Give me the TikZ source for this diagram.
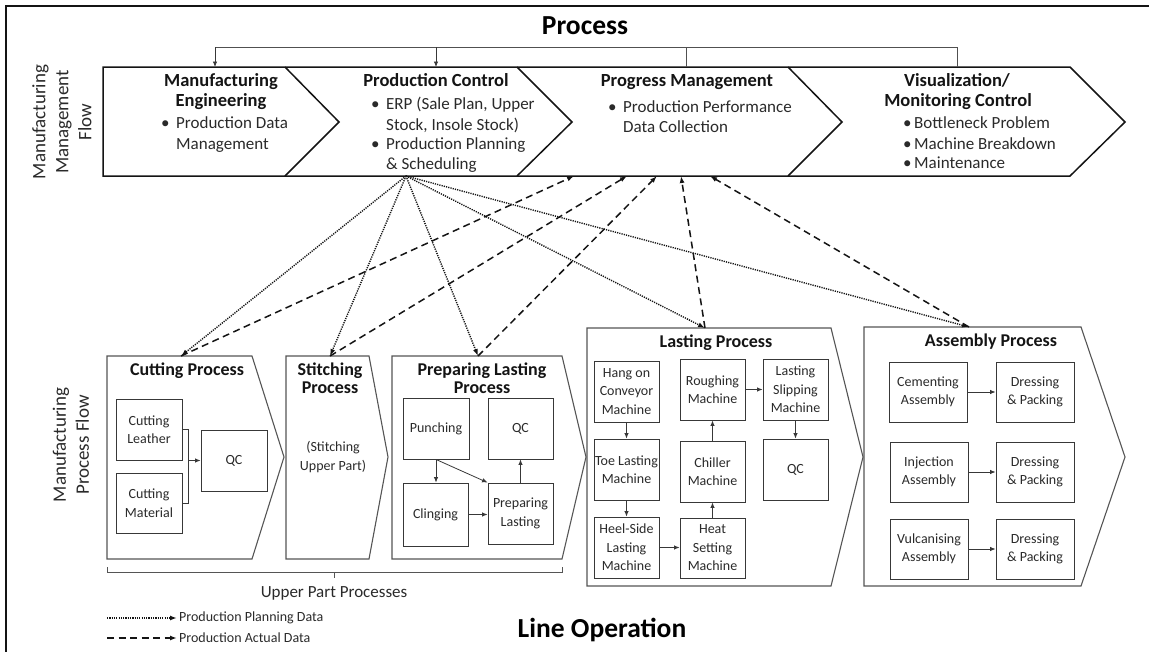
\documentclass[tikz,border=0pt]{standalone}
\usepackage{fontspec}
\setmainfont{Carlito}
\usetikzlibrary{arrows.meta}

\definecolor{ink}{HTML}{141414}
\definecolor{txt}{HTML}{2A2A2A}
\definecolor{procln}{HTML}{555555}
\definecolor{boxln}{HTML}{383838}
\definecolor{busln}{HTML}{505050}

\newcommand\fsz[2]{\fontsize{#1}{#2}\selectfont}
% inner step box given by its corners: name, x1, y1, x2, y2, text
\newcommand\bx[6]{\node[ibox, minimum width={#4-#2}, minimum height={#5-#3}] (#1) at ({(#2+#4)/2},{(#3+#5)/2}) {#6};}

\tikzset{
  ibox/.style={draw=boxln, line width=0.9pt, inner sep=0pt, align=center, text=txt, font=\fsz{14}{18.5}},
  procshape/.style={draw=procln, line width=1.1pt, line join=miter},
  chevline/.style={draw=ink, line width=1.5pt, line join=miter},
  ttl/.style={font=\bfseries\fsz{18.5}{20}, text=ink, inner sep=0pt, anchor=base},
  ptl/.style={font=\bfseries\fsz{18}{18}, text=ink, inner sep=0pt, anchor=base},
  btxt/.style={font=\fsz{17}{20}, text=txt, inner sep=0pt, anchor=base west},
  flow/.style={-{Latex[length=5.5pt,width=4.5pt]}, draw=boxln, line width=0.8pt},
  bus/.style={draw=busln, line width=0.9pt},
  plan/.style={-{Latex[length=7pt,width=5pt]}, draw=ink, line width=1.4pt, dash pattern=on 1.2pt off 1.1pt},
  actual/.style={-{Latex[length=7pt,width=5pt]}, draw=ink, line width=1.5pt, dash pattern=on 7pt off 4.5pt},
  side/.style={font=\fsz{19}{23}, text=txt, inner sep=0pt, align=center, rotate=90},
  big/.style={font=\bfseries\fsz{27.5}{30}, text=black, inner sep=0pt, anchor=base},
  legend/.style={font=\fsz{14}{16}, text=txt, inner sep=0pt, anchor=west},
}

\begin{document}
\begin{tikzpicture}[x=1pt,y=-1pt]
\useasboundingbox (0,0) rectangle (1149,651);

% outer frame
\draw[draw=ink, line width=1.8pt] (6,660) -- (6,6) -- (1160,6);

% headings
\node[big] (ttl) at (585,34) {Process};
\node[big] (lop) at (602,637) {Line Operation};

% side labels
\node[side] (mmf) at (62,122) {Manufacturing\\Management\\Flow};
\node[side] (mpf) at (71,445) {Manufacturing\\Process Flow};

% ---------- management flow chevrons ----------
\draw[chevline] (103,67) -- (1070,67) -- (1125,122) -- (1070,176) -- (103,176) -- cycle;
\draw[chevline] (285,67) -- (339,122) -- (285,176);
\draw[chevline] (517,67) -- (572,122) -- (517,176);
\draw[chevline] (788,67) -- (842,122) -- (788,176);

\coordinate (me-top) at (215,67);
\coordinate (pc-top) at (436,67);
\coordinate (pm-top) at (686,67);
\coordinate (vm-top) at (957,67);
\coordinate (bus-l) at (215,47);
\coordinate (bus-r) at (957,47);
\draw[bus] (bus-l) -- (bus-r);
\draw[flow] (bus-l) -- (me-top);
\draw[flow] (pc-top |- bus-l) -- (pc-top);
\draw[bus] (pm-top |- bus-l) -- (pm-top);
\draw[bus] (bus-r) -- (vm-top);

% Manufacturing Engineering
\node[ttl] (me-t1) at (221,86) {Manufacturing};
\node[ttl] (me-t2) at (221,106) {Engineering};
\node[btxt] (me-d1) at (161,128) {\textbullet};
\node[btxt] (me-l1) at (176,128) {Production Data};
\node[btxt] (me-l2) at (176,149) {Management};

% Production Control
\node[ttl] (pc-t1) at (436,86) {Production Control};
\node[btxt] (pc-d1) at (371,109) {\textbullet};
\node[btxt] (pc-l1) at (386,109) {ERP (Sale Plan, Upper};
\node[btxt] (pc-l2) at (386,130) {Stock, Insole Stock)};
\node[btxt] (pc-d2) at (371,149) {\textbullet};
\node[btxt] (pc-l3) at (386,149) {Production Planning};
\node[btxt] (pc-l4) at (386,169) {\& Scheduling};

% Progress Management
\node[ttl] (pm-t1) at (687,86) {Progress Management};
\node[btxt] (pm-d1) at (608,112) {\textbullet};
\node[btxt] (pm-l1) at (623,112) {Production Performance};
\node[btxt] (pm-l2) at (623,132) {Data Collection};

% Visualization / Monitoring Control
\node[ttl] (vm-t1) at (957,86) {Visualization/};
\node[ttl] (vm-t2) at (958,106) {Monitoring Control};
\node[btxt] (vm-d1) at (903,128) {\textbullet};
\node[btxt] (vm-l1) at (914,128) {Bottleneck Problem};
\node[btxt] (vm-d2) at (903,149) {\textbullet};
\node[btxt] (vm-l2) at (914,149) {Machine Breakdown};
\node[btxt] (vm-d3) at (903,168) {\textbullet};
\node[btxt] (vm-l3) at (914,168) {Maintenance};

% ---------- process flow blocks ----------
\draw[procshape] (107,356) -- (252,356) -- (284,457) -- (252,559) -- (107,559) -- cycle;
\draw[procshape] (286,356) -- (369,356) -- (388,457) -- (369,559) -- (286,559) -- cycle;
\draw[procshape] (392,356) -- (562,356) -- (586,457) -- (562,559) -- (392,559) -- cycle;
\draw[procshape] (587,328) -- (831,328) -- (863,457) -- (831,586) -- (587,586) -- cycle;
\draw[procshape] (864,327) -- (1081,327) -- (1125,457) -- (1081,586) -- (864,586) -- cycle;

\coordinate (cut-top) at (181,356);
\coordinate (sti-top) at (330,356);
\coordinate (pre-top) at (478,356);
\coordinate (las-top) at (705,328);
\coordinate (asm-top) at (969,327);

\node[ptl] (cut-t) at (187,375) {Cutting Process};
\node[ptl] (sti-t1) at (330,375) {Stitching};
\node[ptl] (sti-t2) at (330,393) {Process};
\node[ptl] (pre-t1) at (482,375) {Preparing Lasting};
\node[ptl] (pre-t2) at (482,393) {Process};
\node[ptl] (las-t) at (716,347) {Lasting Process};
\node[ptl] (asm-t) at (991,346) {Assembly Process};

% cutting
\bx{cl}{116}{399}{182}{460}{Cutting\\Leather}
\bx{cm}{116}{473}{182}{533}{Cutting\\Material}
\bx{qc1}{201}{430}{267}{491}{QC}
\draw[flow, -] (cl.east) -- ++(6,0) coordinate (brt) |- (cm.east);
\draw[flow] (brt |- qc1.west) -- (qc1.west);

% stitching
\node[font=\fsz{14}{18.5}, text=txt, align=center, inner sep=0pt] (stx) at (333,457) {(Stitching\\Upper Part)};

% preparing lasting
\bx{pun}{403}{398}{469}{459}{Punching}
\bx{qc2}{488}{398}{553}{459}{QC}
\bx{cli}{403}{483}{468}{546}{Clinging}
\bx{prl}{488}{483}{553}{544}{Preparing\\Lasting}
\draw[flow] (pun.south) -- (pun.south |- cli.north);
\draw[flow] (pun.south) -- (prl.north west);
\draw[flow] (cli.east) -- (cli.east -| prl.west);
\draw[flow] (prl.north) -- (prl.north |- qc2.south);

% lasting
\bx{hang}{594}{361}{659}{422}{Hang on\\Conveyor\\Machine}
\bx{toe}{594}{439}{659}{500}{Toe Lasting\\Machine}
\bx{heel}{594}{517}{659}{578}{Heel-Side\\Lasting\\Machine}
\bx{rough}{680}{359}{745}{420}{Roughing\\Machine}
\bx{chill}{680}{441}{745}{502}{Chiller\\Machine}
\bx{heat}{680}{518}{745}{578}{Heat\\Setting\\Machine}
\bx{slip}{763}{359}{828}{420}{Lasting\\Slipping\\Machine}
\bx{qc3}{763}{439}{828}{500}{QC}
\draw[flow] (hang.south) -- (toe.north);
\draw[flow] (toe.south) -- (heel.north);
\draw[flow] (heel.east) -- (heel.east -| heat.west);
\draw[flow] (heat.north) -- (chill.south);
\draw[flow] (chill.north) -- (rough.south);
\draw[flow] (rough.east) -- (rough.east -| slip.west);
\draw[flow] (slip.south) -- (qc3.north);

% assembly
\bx{cem}{889}{362}{967}{422}{Cementing\\Assembly}
\bx{inj}{890}{442}{968}{502}{Injection\\Assembly}
\bx{vul}{890}{519}{968}{579}{Vulcanising\\Assembly}
\bx{dp1}{996}{362}{1074}{422}{Dressing\\\& Packing}
\bx{dp2}{996}{442}{1074}{502}{Dressing\\\& Packing}
\bx{dp3}{996}{519}{1074}{579}{Dressing\\\& Packing}
\draw[flow] (cem.east) -- (cem.east -| dp1.west);
\draw[flow] (inj.east) -- (inj.east -| dp2.west);
\draw[flow] (vul.east) -- (vul.east -| dp3.west);

% upper part brace
\draw[draw=procln, line width=0.9pt] (107,567) -- (107,572) -- (562,572) -- (562,567);
\draw[draw=procln, line width=0.9pt] (334,572) -- (334,578);
\node[font=\fsz{17}{20}, text=txt, inner sep=0pt, anchor=base] (upp) at (334,597) {Upper Part Processes};

% ---------- data flows ----------
\coordinate (pc-bot) at (406,176);
\coordinate (pm-b1) at (574,176);
\coordinate (pm-b2) at (627,176);
\coordinate (pm-b3) at (657,176);
\coordinate (pm-b4) at (681,176);
\coordinate (pm-b5) at (710,176);

\draw[actual] (cut-top) -- (pm-b1);
\draw[actual] (sti-top) -- (pm-b2);
\draw[actual] (pre-top) -- (pm-b3);
\draw[actual] (las-top) -- (pm-b4);
\draw[actual] (asm-top) -- (pm-b5);

\draw[plan] (pc-bot) -- (cut-top);
\draw[plan] (pc-bot) -- (sti-top);
\draw[plan] (pc-bot) -- (pre-top);
\draw[plan] (pc-bot) -- (las-top);
\draw[plan] (pc-bot) -- (asm-top);

% legend
\node[legend] (lg-plan) at (179,618) {Production Planning Data};
\node[legend] (lg-act) at (179,638) {Production Actual Data};
\coordinate (lg-p0) at (107,618);
\coordinate (lg-a0) at (107,638);
\draw[plan] (lg-p0) -- ([xshift=-2pt]lg-plan.west);
\draw[actual] (lg-a0) -- ([xshift=-2pt]lg-act.west);

\end{tikzpicture}
\end{document}
